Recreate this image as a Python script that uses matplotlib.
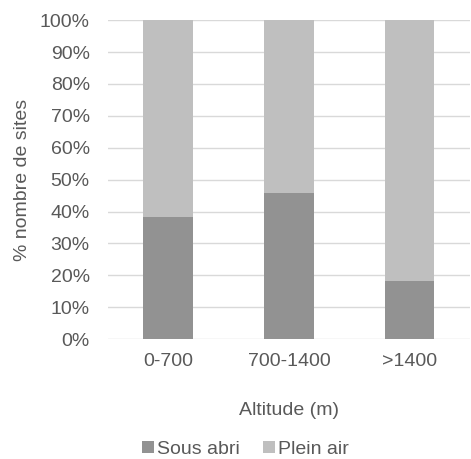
import numpy as np
import matplotlib.pyplot as plt

plt.rcParams['font.family'] = ['Liberation Sans', 'DejaVu Sans']

categories = ['0-700', '700-1400', '>1400']
sous_abri = [38.3, 45.9, 18.3]
plein_air = [100 - v for v in sous_abri]
series_names = ['Sous abri', 'Plein air']

text_color = '#595959'
dark = '#929292'
light = '#bfbfbf'
fs = 14

fig = plt.figure(figsize=(4.71, 4.59), dpi=100)
ax = fig.add_axes([0.229, 0.261, 0.769, 0.695])

x = np.arange(len(categories))
width = 0.41
ax.bar(x, sous_abri, width, color=dark, label=series_names[0], zorder=3)
ax.bar(x, plein_air, width, bottom=sous_abri, color=light, label=series_names[1], zorder=3)

ax.set_xlim(-0.5, 2.5)
ax.set_ylim(0, 100)
ax.set_yticks(np.arange(0, 101, 10))
ax.set_yticklabels(['%d%%' % v for v in range(0, 101, 10)])
ax.set_xticks(x)
ax.set_xticklabels(categories)
ax.grid(axis='y', color='#d9d9d9', linewidth=1, zorder=0)
for s in ax.spines.values():
    s.set_visible(False)
ax.tick_params(axis='both', length=0, labelsize=fs, colors=text_color)
ax.tick_params(axis='x', pad=10)
ax.tick_params(axis='y', pad=13)
ax.set_ylabel('% nombre de sites', fontsize=fs, color=text_color, labelpad=6)
ax.set_xlabel('Altitude (m)', fontsize=fs, color=text_color, labelpad=23)

fig.legend(loc='center', bbox_to_anchor=(0.521, 0.021), ncol=2, frameon=False,
           fontsize=fs, labelcolor=text_color, handlelength=0.62, handleheight=0.62,
           handletextpad=0.15, columnspacing=1.2, borderpad=0, borderaxespad=0)

fig.savefig('out.png', dpi=100)
